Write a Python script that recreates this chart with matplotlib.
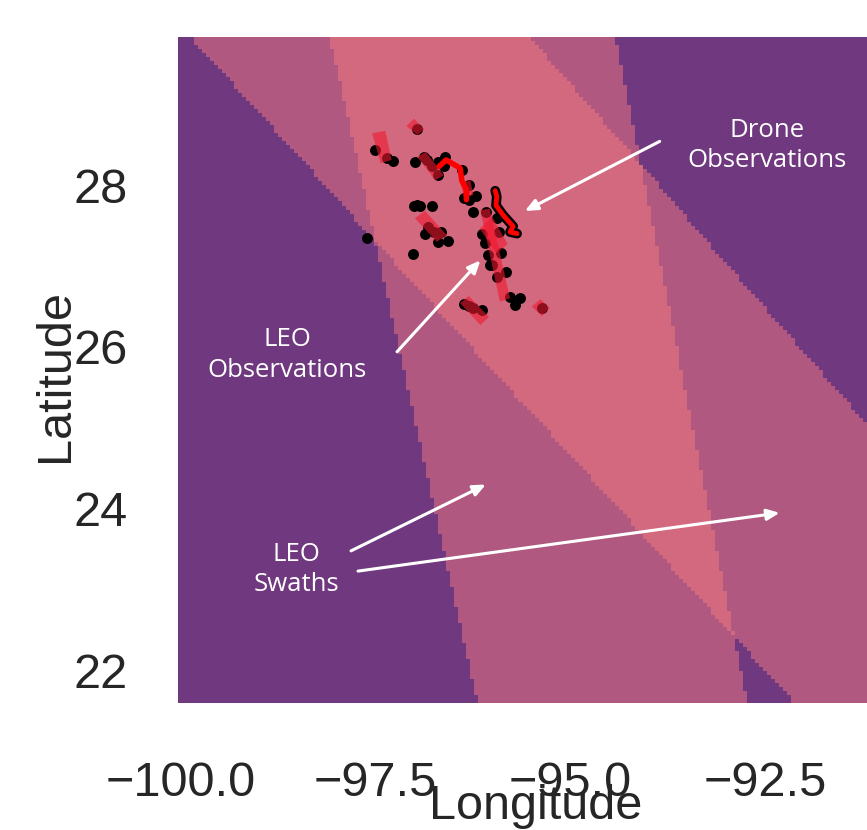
import numpy as np
import matplotlib
matplotlib.use('Agg')
import matplotlib.pyplot as plt
from matplotlib.colors import ListedColormap
from matplotlib.patches import Polygon

# swath edges, (lon, lat) at both ends
steep_left = [(-98.08, 29.83), (-96.18, 21.60)]
steep_right = [(-94.42, 29.83), (-92.73, 21.60)]
diag_lower = [(-99.87, 29.83), (-92.12, 21.60)]
diag_upper = [(-94.04, 28.19), (-91.19, 25.04)]

# number of swaths covering a cell -> colour
swath_colors = ['#70387F', '#B0587F', '#D3697F']

black_lon = [-97.61, -97.02, -97.50, -97.35, -97.27, -96.99, -96.88, -96.83, -96.77, -96.70,
             -96.69, -96.60, -96.62, -96.39, -96.30, -96.36, -96.30, -96.21, -96.97, -96.93,
             -97.00, -96.77, -96.24, -96.86, -96.82, -96.75, -96.69, -96.65, -96.56, -96.13,
             -96.09, -96.05, -96.00, -95.94, -95.82, -95.88, -95.94, -95.91, -96.03, -95.77,
             -95.71, -95.64, -96.36, -96.30, -96.24, -96.13, -96.96, -95.36, -96.08]
black_lat = [27.34, 27.15, 28.43, 28.33, 28.30, 28.29, 28.35, 28.31, 28.23, 28.12,
             28.29, 28.35, 28.23, 28.19, 28.00, 27.84, 27.81, 27.86, 27.76, 27.74,
             27.74, 27.74, 27.67, 27.40, 27.48, 27.42, 27.30, 27.42, 27.31, 27.40,
             27.28, 27.14, 27.01, 26.87, 26.93, 27.16, 27.59, 27.42, 27.01, 26.62,
             26.52, 26.60, 26.53, 26.51, 26.48, 26.46, 28.69, 26.48, 27.67]

# LEO observation footprints
leo_boxes = [
    [(-97.54, 28.64), (-97.37, 28.67), (-97.29, 28.31), (-97.43, 28.27)],
    [(-97.10, 28.73), (-97.00, 28.82), (-96.87, 28.69), (-96.96, 28.62)],
    [(-96.96, 28.35), (-96.85, 28.41), (-96.62, 28.12), (-96.73, 28.06)],
    [(-96.99, 27.59), (-96.86, 27.68), (-96.58, 27.38), (-96.71, 27.30)],
    [(-96.16, 27.46), (-96.00, 27.61), (-95.80, 27.27), (-95.94, 27.16)],
    [(-96.15, 27.69), (-96.03, 27.71), (-95.77, 26.60), (-95.90, 26.56)],
    [(-96.41, 26.54), (-96.30, 26.63), (-96.04, 26.37), (-96.15, 26.27)],
    [(-95.49, 26.50), (-95.38, 26.59), (-95.26, 26.48), (-95.36, 26.38)],
    [(-96.40, 28.02), (-96.28, 28.06), (-96.24, 27.88), (-96.36, 27.84)],
]

# drone tracks
drone1_lon = [-96.68, -96.59, -96.41, -96.39, -96.33, -96.33]
drone1_lat = [28.23, 28.31, 28.21, 28.06, 27.94, 27.82]
drone2_lon = [-95.96, -95.94, -95.95, -95.86, -95.73, -95.77, -95.68]
drone2_lat = [27.93, 27.86, 27.75, 27.63, 27.49, 27.42, 27.40]

xticks = [-100.0, -97.5, -95.0, -92.5]
yticks = [22, 24, 26, 28]

# label, lon, lat
labels = [('Drone\nObservations', -92.47, 28.49),
          ('LEO\nObservations', -98.63, 25.90),
          ('LEO\nSwaths', -98.51, 23.25)]
# tail, head
arrows = [((-93.85, 28.54), (-95.58, 27.68)),
          ((-97.22, 25.94), (-96.15, 27.07)),
          ((-97.81, 23.48), (-96.08, 24.30)),
          ((-97.72, 23.23), (-92.31, 23.95))]


def edge_lon(edge, lat):
    (x0, y0), (x1, y1) = edge
    return x0 + (lat - y0) * (x1 - x0) / (y1 - y0)


plt.rcParams['font.family'] = ['Liberation Sans', 'DejaVu Sans']
fig = plt.figure(figsize=(8.67, 8.30), dpi=100)
ax = fig.add_axes([178 / 867, 127 / 830, 689 / 867, 666 / 830])

lon_edges = np.linspace(-100.03, -91.19, 173)
lat_edges = np.linspace(21.60, 29.83, 167)
lon_c = (lon_edges[:-1] + lon_edges[1:]) / 2
lat_c = (lat_edges[:-1] + lat_edges[1:]) / 2
LON, LAT = np.meshgrid(lon_c, lat_c)

in_steep = (LON > edge_lon(steep_left, LAT)) & (LON < edge_lon(steep_right, LAT))
in_diag = (LON > edge_lon(diag_lower, LAT)) & (LON < edge_lon(diag_upper, LAT))
count = in_steep.astype(int) + in_diag.astype(int)

ax.pcolormesh(lon_edges, lat_edges, count, cmap=ListedColormap(swath_colors), vmin=-0.5, vmax=2.5, zorder=1)

ax.scatter(black_lon, black_lat, s=62, c='black', linewidths=0, zorder=2)
ax.plot(drone2_lon, drone2_lat, color='black', lw=7, solid_capstyle='round', solid_joinstyle='round', zorder=2)

for box in leo_boxes:
    ax.add_patch(Polygon(box, closed=True, facecolor='#F0182F', alpha=0.6, edgecolor='none', zorder=3))

ax.plot(drone1_lon, drone1_lat, color='#FF0000', lw=4, solid_capstyle='round', solid_joinstyle='round', zorder=4)
ax.plot(drone2_lon, drone2_lat, color='#FF0000', lw=3.5, solid_capstyle='round', solid_joinstyle='round', zorder=4)

for tail, head in arrows:
    ax.annotate('', xy=head, xytext=tail, zorder=5,
                arrowprops=dict(arrowstyle='-|>,head_length=0.75,head_width=0.33', color='white', lw=2.2,
                                shrinkA=0, shrinkB=0))
for text, lon, lat in labels:
    ax.text(lon, lat, text, color='white', fontsize=18.5, family='Open Sans', ha='center', va='center',
            linespacing=1.3, zorder=5)

ax.set_xlim(-100.03, -91.19)
ax.set_ylim(21.60, 29.83)
ax.set_xticks(xticks)
ax.set_yticks(yticks)
ax.set_xticklabels(['\u2212100.0', '\u221297.5', '\u221295.0', '\u221292.5'])
ax.tick_params(length=0, labelsize=35, labelcolor='#262626', pad=36)
ax.tick_params(axis='x', pad=42)
for spine in ax.spines.values():
    spine.set_visible(False)

ax.set_xlabel('Longitude', fontsize=35, color='#262626')
ax.set_ylabel('Latitude', fontsize=35, color='#262626')
ax.xaxis.set_label_coords((536 - 178) / 689, -(806 - 703) / 666, transform=ax.transAxes)
ax.yaxis.set_label_coords(-(178 - 55) / 689, (703 - 375) / 666, transform=ax.transAxes)
ax.xaxis.label.set_verticalalignment('center')
ax.yaxis.label.set_verticalalignment('center')

fig.savefig('out.png', dpi=100)
